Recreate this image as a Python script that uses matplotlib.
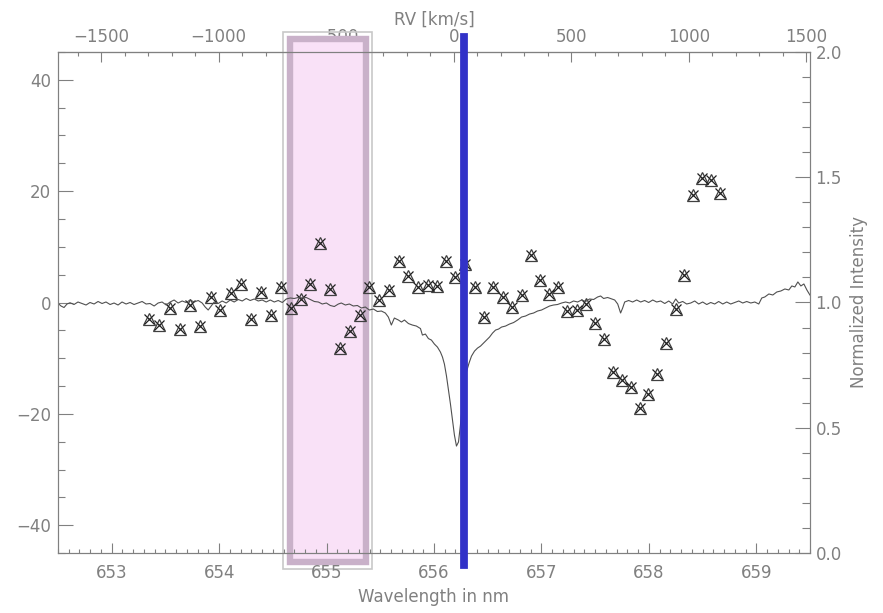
# Recreate RV / Normalized Intensity plot around H-alpha

import numpy as np
import matplotlib
matplotlib.use("Agg")
import matplotlib.pyplot as plt
from matplotlib.patches import Rectangle
import matplotlib.transforms as mtransforms
from matplotlib.ticker import MultipleLocator, FixedLocator


# =========================
# 1. Data
# =========================

# marker points (left axis)
point_wave = [
    653.351, 653.444, 653.544, 653.637, 653.730, 653.823, 653.923, 654.010,
    654.109, 654.202, 654.296, 654.389, 654.482, 654.575, 654.669, 654.762,
    654.849, 654.942, 655.035, 655.122, 655.215, 655.308, 655.396, 655.489,
    655.580, 655.672, 655.757, 655.852, 655.942, 656.029, 656.116, 656.200,
    656.293, 656.380, 656.468, 656.551, 656.641, 656.729, 656.815, 656.899,
    656.986, 657.073, 657.157, 657.241, 657.330, 657.414, 657.497, 657.582,
    657.666, 657.750, 657.834, 657.917, 657.994, 658.080, 658.164, 658.250,
    658.328, 658.415, 658.493, 658.576, 658.660,
]
point_value = [
    -2.9, -4.1, -0.9, -4.7, -0.5, -4.3, 0.9, -1.4,
    1.7, 3.4, -3.0, 1.9, -2.3, 2.8, -1.0, 0.7,
    3.4, 10.7, 2.4, -8.1, -5.1, -2.3, 2.8, 0.5,
    2.2, 7.5, 4.7, 2.7, 3.2, 2.9, 7.5, 4.5,
    7.0, 2.8, -2.6, 2.7, 1.0, -0.8, 1.3, 8.5,
    4.1, 1.6, 2.7, -1.5, -1.4, -0.3, -3.6, -6.6,
    -12.4, -13.9, -15.1, -18.9, -16.4, -12.8, -7.3, -1.1,
    4.9, 19.3, 22.3, 22.0, 19.7,
]

# spectrum (right axis)
spec_wave = [
    652.500, 652.528, 652.556, 652.584, 652.612, 652.649, 652.686, 652.724,
    652.761, 652.798, 652.836, 652.873, 652.910, 652.947, 652.985, 653.022,
    653.059, 653.096, 653.134, 653.171, 653.208, 653.246, 653.283, 653.320,
    653.357, 653.395, 653.432, 653.469, 653.507, 653.544, 653.581, 653.618,
    653.656, 653.693, 653.730, 653.767, 653.805, 653.842, 653.870, 653.898,
    653.926, 653.954, 653.991, 654.028, 654.066, 654.103, 654.140, 654.178,
    654.215, 654.252, 654.289, 654.327, 654.364, 654.401, 654.438, 654.476,
    654.513, 654.550, 654.588, 654.625, 654.662, 654.699, 654.737, 654.774,
    654.811, 654.849, 654.886, 654.923, 654.960, 654.998, 655.035, 655.072,
    655.110, 655.137, 655.175, 655.212, 655.249, 655.287, 655.324, 655.361,
    655.398, 655.436, 655.473, 655.510, 655.547, 655.575, 655.603, 655.631,
    655.669, 655.697, 655.725, 655.762, 655.799, 655.836, 655.874, 655.892,
    655.920, 655.948, 655.976, 656.004, 656.032, 656.060, 656.079, 656.097,
    656.116, 656.135, 656.153, 656.172, 656.190, 656.209, 656.228, 656.246,
    656.274, 656.302, 656.326, 656.349, 656.377, 656.405, 656.433, 656.461,
    656.489, 656.517, 656.545, 656.573, 656.601, 656.629, 656.666, 656.703,
    656.741, 656.778, 656.815, 656.852, 656.890, 656.927, 656.964, 657.001,
    657.039, 657.076, 657.113, 657.150, 657.188, 657.225, 657.262, 657.299,
    657.337, 657.374, 657.411, 657.448, 657.486, 657.523, 657.551, 657.579,
    657.616, 657.654, 657.682, 657.710, 657.737, 657.756, 657.775, 657.812,
    657.849, 657.887, 657.924, 657.961, 657.998, 658.036, 658.073, 658.110,
    658.148, 658.185, 658.222, 658.250, 658.278, 658.315, 658.352, 658.390,
    658.427, 658.464, 658.501, 658.539, 658.576, 658.613, 658.650, 658.688,
    658.725, 658.762, 658.799, 658.837, 658.874, 658.911, 658.949, 658.986,
    659.023, 659.051, 659.079, 659.117, 659.154, 659.191, 659.229, 659.266,
    659.303, 659.331, 659.359, 659.387, 659.415, 659.443, 659.471, 659.499,
]
spec_flux = [
    0.997, 0.986, 0.980, 0.994, 0.999, 0.992, 1.002, 0.996,
    0.990, 1.000, 0.994, 1.004, 0.996, 1.002, 0.992, 0.998,
    0.990, 1.002, 0.994, 1.000, 0.992, 0.998, 1.004, 0.994,
    0.996, 0.986, 0.998, 1.002, 0.990, 1.002, 1.010, 0.998,
    1.006, 1.000, 1.010, 1.002, 1.008, 0.998, 0.982, 0.970,
    0.986, 1.002, 0.996, 1.006, 0.998, 1.010, 1.002, 1.012,
    1.006, 1.016, 1.008, 1.014, 1.006, 1.010, 1.002, 1.010,
    1.002, 1.008, 1.000, 1.014, 1.018, 1.016, 1.020, 1.018,
    1.020, 1.012, 1.004, 1.002, 0.994, 0.998, 0.988, 0.984,
    0.994, 0.998, 0.990, 0.994, 0.986, 0.988, 0.978, 0.982,
    0.970, 0.974, 0.964, 0.966, 0.958, 0.942, 0.910, 0.938,
    0.930, 0.922, 0.930, 0.916, 0.910, 0.906, 0.896, 0.870,
    0.874, 0.856, 0.850, 0.834, 0.822, 0.802, 0.782, 0.754,
    0.707, 0.651, 0.595, 0.531, 0.471, 0.427, 0.443, 0.511,
    0.631, 0.723, 0.758, 0.786, 0.806, 0.818, 0.826, 0.838,
    0.850, 0.862, 0.878, 0.890, 0.894, 0.902, 0.906, 0.914,
    0.920, 0.930, 0.942, 0.946, 0.954, 0.958, 0.966, 0.970,
    0.978, 0.986, 0.990, 0.992, 0.998, 1.002, 0.998, 1.006,
    1.002, 1.010, 1.004, 1.014, 1.012, 1.022, 1.026, 1.016,
    1.020, 1.014, 1.010, 0.994, 0.958, 0.978, 1.002, 1.008,
    1.002, 1.010, 1.002, 1.008, 1.000, 1.010, 1.002, 1.006,
    0.996, 1.006, 0.994, 1.014, 0.998, 1.004, 0.994, 0.998,
    1.006, 0.994, 1.002, 0.992, 1.000, 0.994, 1.004, 0.994,
    1.002, 0.994, 1.000, 1.006, 0.998, 1.004, 0.998, 1.002,
    0.994, 1.018, 1.022, 1.034, 1.030, 1.042, 1.046, 1.054,
    1.050, 1.066, 1.062, 1.082, 1.066, 1.074, 1.050, 1.030,
]

rv_ticks = [-1500, -1000, -500, 0, 500, 1000, 1500]
band_wave = [654.657, 655.368]   # highlighted window
line_wave = 656.28               # H-alpha rest wavelength (blue bar)
rv_zero = 656.184                # wavelength of RV = 0 on the top axis
c_kms = 299792.458


# =========================
# 2. Plot
# =========================

GRAY = "#808080"
plt.rcParams["font.family"] = ["DejaVu Sans"]
plt.rcParams["font.size"] = 12

fig = plt.figure(figsize=(8.83, 6.13), dpi=100)
ax = fig.add_axes([58 / 883, 1 - 553 / 613, 752 / 883, 501 / 613])
ax2 = ax.twinx()

ax.set_xlim(652.5, 659.5)
ax.set_ylim(-45, 45)
ax2.set_ylim(0.0, 2.0)

# highlighted window (extends past the frame)
trans = mtransforms.blended_transform_factory(ax.transData, ax.transAxes)
ax.add_patch(Rectangle((band_wave[0] - 0.058, -0.032),
                       band_wave[1] - band_wave[0] + 0.116, 1.072,
                       transform=trans, facecolor="none",
                       edgecolor="#c8c8c8", linewidth=1.2,
                       clip_on=False, zorder=1))
ax.add_patch(Rectangle((band_wave[0], -0.018),
                       band_wave[1] - band_wave[0], 1.044,
                       transform=trans, facecolor="#f9e1f7",
                       edgecolor="#c9b1c9", linewidth=4.6,
                       clip_on=False, zorder=1))

# markers: triangle with a cross on top
ax.plot(point_wave, point_value, linestyle="none", marker="^",
        markersize=8.5, markerfacecolor="none", markeredgecolor="#404040",
        markeredgewidth=0.9, zorder=3)
ax.plot(point_wave, point_value, linestyle="none", marker="x",
        markersize=7, color="#202020", markeredgewidth=0.9, zorder=4)

# spectrum and H-alpha bar
ax2.plot(spec_wave, spec_flux, color="#505050", linewidth=0.8, zorder=2)
ax2.axvline(line_wave, ymin=-0.024, ymax=1.03, color="#3232c8",
            linewidth=5.6, clip_on=False, zorder=5)


# top axis in radial velocity
def wave_to_rv(w):
    return (np.asarray(w) - rv_zero) / rv_zero * c_kms


def rv_to_wave(v):
    return rv_zero * (1 + np.asarray(v) / c_kms)


top = ax.secondary_xaxis("top", functions=(wave_to_rv, rv_to_wave))
top.xaxis.set_major_locator(FixedLocator(rv_ticks))
top.xaxis.set_minor_locator(FixedLocator(list(range(-1600, 1600, 100))))
top.tick_params(which="major", direction="in", length=7, width=0.8,
                colors=GRAY, pad=4)
top.tick_params(which="minor", direction="in", length=3, width=0.8,
                colors=GRAY)
top.spines["top"].set_color(GRAY)
top.set_xlabel("RV [km/s]", color=GRAY, labelpad=3)

# axis styling
ax.xaxis.set_major_locator(MultipleLocator(1))
ax.xaxis.set_minor_locator(MultipleLocator(0.1))
ax.yaxis.set_major_locator(MultipleLocator(20))
ax.yaxis.set_minor_locator(MultipleLocator(5))
ax2.yaxis.set_major_locator(MultipleLocator(0.5))
ax2.yaxis.set_minor_locator(MultipleLocator(0.1))

ax.tick_params(axis="x", which="major", direction="in", length=7,
               width=0.8, colors=GRAY, pad=8, top=False)
ax.tick_params(axis="x", which="minor", direction="in", length=3,
               width=0.8, colors=GRAY, top=False)
ax.tick_params(axis="y", which="major", direction="in", length=11,
               width=0.8, colors=GRAY, pad=5, right=False)
ax.tick_params(axis="y", which="minor", direction="in", length=5,
               width=0.8, colors=GRAY, right=False)
ax2.tick_params(axis="y", which="major", direction="in", length=11,
                width=0.8, colors=GRAY, pad=4)
ax2.tick_params(axis="y", which="minor", direction="in", length=6,
                width=0.8, colors=GRAY)

for a in (ax, ax2):
    for s in a.spines.values():
        s.set_color(GRAY)
        s.set_linewidth(0.8)

ax.yaxis.set_major_formatter(plt.FuncFormatter(
    lambda v, p: f"{v:.0f}".replace("-", "\u2212")))
ax2.yaxis.set_major_formatter(plt.FuncFormatter(lambda v, p: f"{v:.1f}"))

ax.set_xlabel("Wavelength in nm", color=GRAY, labelpad=4)
ax2.set_ylabel("Normalized Intensity", color=GRAY, labelpad=6)

fig.savefig("out.png", dpi=100)
